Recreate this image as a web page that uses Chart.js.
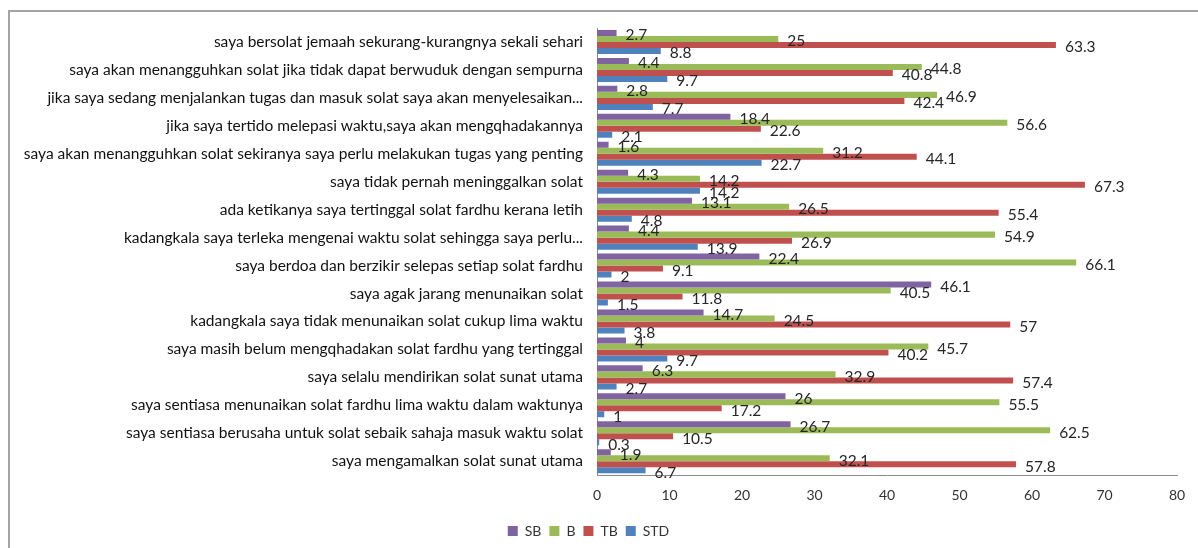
<!DOCTYPE html>
<html lang="ms">
<head>
  <meta charset="UTF-8">
  <title>Amalan solat</title>
  <style>
    body {
      margin: 0;
      background: #fff;
      overflow: hidden;
    }
    #frame {
      position: absolute;
      left: 8px;
      top: 10px;
      width: 1400px;
      height: 800px;
      border: 2px solid #a3a3a3;
    }
    #wrap {
      position: absolute;
      left: 0;
      top: 0;
      width: 1198px;
      height: 548px;
    }
  </style>
</head>
<body>

<div id="frame"></div>
<div id="wrap"><canvas id="chart" width="1198" height="548"></canvas></div>

<script src="https://cdn.jsdelivr.net/npm/chart.js"></script>
<script>

const labels = [
  "saya bersolat jemaah sekurang-kurangnya sekali sehari",
  "saya akan menangguhkan solat jika tidak dapat berwuduk dengan sempurna",
  "jika saya sedang menjalankan tugas dan masuk solat saya akan menyelesaikan...",
  "jika saya tertido melepasi waktu,saya akan mengqhadakannya",
  "saya akan menangguhkan solat sekiranya saya perlu melakukan tugas yang penting",
  "saya tidak pernah meninggalkan solat",
  "ada ketikanya saya tertinggal solat fardhu kerana letih",
  "kadangkala saya terleka mengenai waktu solat sehingga saya perlu...",
  "saya berdoa dan berzikir selepas setiap solat fardhu",
  "saya agak jarang menunaikan solat",
  "kadangkala saya tidak menunaikan solat cukup lima waktu",
  "saya masih belum mengqhadakan solat fardhu yang tertinggal",
  "saya selalu mendirikan solat sunat utama",
  "saya sentiasa menunaikan solat fardhu lima waktu dalam waktunya",
  "saya sentiasa berusaha untuk solat sebaik sahaja masuk waktu solat",
  "saya mengamalkan solat sunat utama"
];

const sb  = [2.7, 4.4, 2.8, 18.4, 1.6, 4.3, 13.1, 4.4, 22.4, 46.1, 14.7, 4, 6.3, 26, 26.7, 1.9];
const b   = [25, 44.8, 46.9, 56.6, 31.2, 14.2, 26.5, 54.9, 66.1, 40.5, 24.5, 45.7, 32.9, 55.5, 62.5, 32.1];
const tb  = [63.3, 40.8, 42.4, 22.6, 44.1, 67.3, 55.4, 26.9, 9.1, 11.8, 57, 40.2, 57.4, 17.2, 10.5, 57.8];
const std = [8.8, 9.7, 7.7, 2.1, 22.7, 14.2, 4.8, 13.9, 2, 1.5, 3.8, 9.7, 2.7, 1, 0.3, 6.7];

const xTicks = [0, 10, 20, 30, 40, 50, 60, 70, 80];

const FONT = "Lato, 'Open Sans', sans-serif";

// value labels at the end of each bar
const valueLabels = {
  id: "valueLabels",
  afterDatasetsDraw(chart) {
    const ctx = chart.ctx;
    ctx.save();
    ctx.font = "15.5px " + FONT;
    ctx.fillStyle = "#262626";
    ctx.textBaseline = "middle";
    ctx.textAlign = "left";
    chart.data.datasets.forEach((ds, i) => {
      const meta = chart.getDatasetMeta(i);
      meta.data.forEach((bar, j) => {
        ctx.fillText(String(ds.data[j]), bar.x + 9, bar.y + 2.5);
      });
    });
    ctx.restore();
  }
};

new Chart(document.getElementById("chart"), {
  type: "bar",
  data: {
    labels: labels,
    datasets: [
      { label: "SB",  data: sb,  backgroundColor: "#8064a2" },
      { label: "B",   data: b,   backgroundColor: "#9bbb59" },
      { label: "TB",  data: tb,  backgroundColor: "#c0504d" },
      { label: "STD", data: std, backgroundColor: "#4f81bd" }
    ]
  },
  options: {
    indexAxis: "y",
    responsive: false,
    animation: false,
    layout: { padding: { top: 28, right: 21, bottom: 0, left: 0 } },
    datasets: {
      bar: { categoryPercentage: 0.86, barPercentage: 1.0 }
    },
    scales: {
      x: {
        min: 0,
        max: 80,
        afterBuildTicks: scale => { scale.ticks = xTicks.map(v => ({ value: v })); },
        grid: { display: false, drawTicks: false },
        border: { display: true, color: "#8c8c8c", width: 1 },
        ticks: { padding: 12, color: "#333", font: { family: FONT, size: 14 } }
      },
      y: {
        grid: { display: false, drawTicks: false },
        border: { display: true, color: "#8c8c8c", width: 1 },
        ticks: { padding: 14, color: "#111", autoSkip: false, font: { family: FONT, size: 15.5 } },
        afterFit: scale => { scale.width = 597; }
      }
    },
    plugins: {
      legend: {
        position: "bottom",
        labels: {
          boxWidth: 10,
          boxHeight: 10,
          padding: 8,
          color: "#333",
          font: { family: FONT, size: 14 }
        }
      },
      tooltip: { enabled: false }
    }
  },
  plugins: [valueLabels]
});

</script>

</body>
</html>
